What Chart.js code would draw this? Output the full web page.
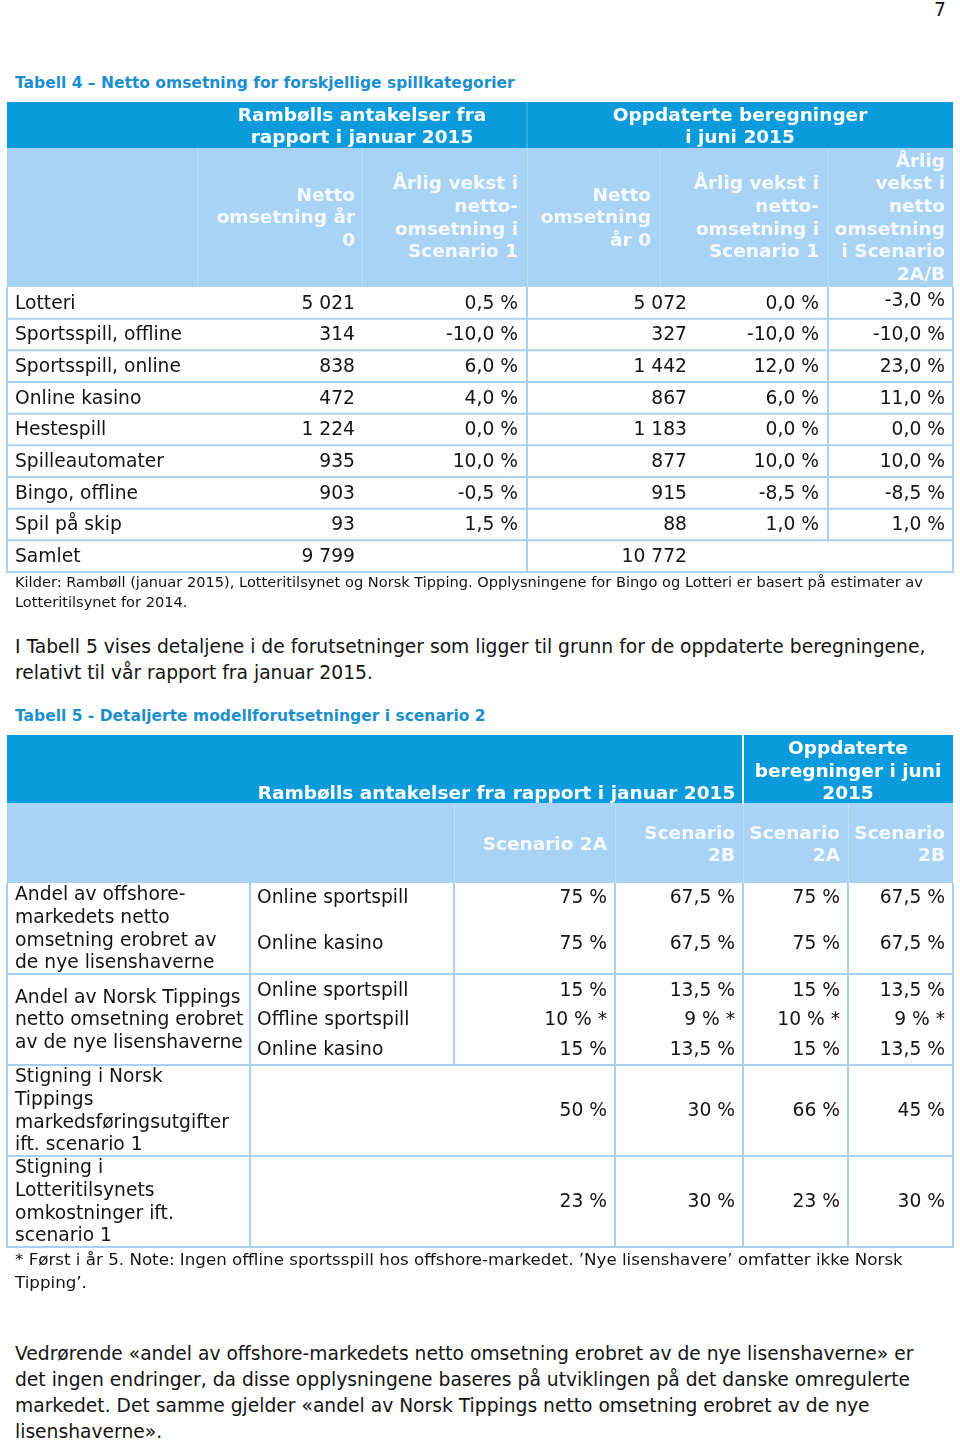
<!DOCTYPE html>
<html><head><meta charset="utf-8">
<script src="https://cdn.jsdelivr.net/npm/chart.js@4.4.1/dist/chart.umd.min.js"></script>
<style>
html,body{margin:0;padding:0;background:#fff}
body{width:960px;height:1442px;position:relative;overflow:hidden;font-family:"DejaVu Sans",Verdana,sans-serif;color:#141414}
.t{position:absolute;left:15px;white-space:pre;margin:0}
.cap{font-weight:bold;font-size:15.5px;line-height:20px;color:#1b8fd0}
.p{font-size:18.7px;line-height:26px}
.small{font-size:14.6px;line-height:20px}
.foot{font-size:16.7px;line-height:23px}
canvas{position:absolute;left:0}
</style></head>
<body>
<div class="t p" style="left:934px;top:-3px">7</div>
<div class="t cap" style="top:73px">Tabell 4 – Netto omsetning for forskjellige spillkategorier</div>
<div style="position:absolute;left:0;top:100px;width:960px;height:476px"><canvas id="t4"></canvas></div>
<div class="t small" style="top:572px">Kilder: Rambøll (januar 2015), Lotteritilsynet og Norsk Tipping. Opplysningene for Bingo og Lotteri er basert på estimater av
Lotteritilsynet for 2014.</div>
<div class="t p" style="top:634px">I Tabell 5 vises detaljene i de forutsetninger som ligger til grunn for de oppdaterte beregningene,
relativt til vår rapport fra januar 2015.</div>
<div class="t cap" style="top:706px">Tabell 5 - Detaljerte modellforutsetninger i scenario 2</div>
<div style="position:absolute;left:0;top:733px;width:960px;height:517px"><canvas id="t5"></canvas></div>
<div class="t foot" style="top:1248px">* Først i år 5. Note: Ingen offline sportsspill hos offshore-markedet. ’Nye lisenshavere’ omfatter ikke Norsk
Tipping’.</div>
<div class="t p" style="top:1341px">Vedrørende «andel av offshore-markedets netto omsetning erobret av de nye lisenshaverne» er
det ingen endringer, da disse opplysningene baseres på utviklingen på det danske omregulerte
markedet. Det samme gjelder «andel av Norsk Tippings netto omsetning erobret av de nye
lisenshaverne».</div>
<script>
// ---------- DATA: Tabell 4 ----------
const t4Categories = ["Lotteri","Sportsspill, offline","Sportsspill, online","Online kasino","Hestespill","Spilleautomater","Bingo, offline","Spil på skip","Samlet"];
const t4NettoJan   = [5021, 314, 838, 472, 1224, 935, 903, 93, 9799];
const t4VekstJan1  = [0.5, -10, 6, 4, 0, 10, -0.5, 1.5, null];
const t4NettoJun   = [5072, 327, 1442, 867, 1183, 877, 915, 88, 10772];
const t4VekstJun1  = [0, -10, 12, 6, 0, 10, -8.5, 1, null];
const t4VekstJun2  = [-3, -10, 23, 11, 0, 10, -8.5, 1, null];
const t4GroupHeaders = [["Rambølls antakelser fra","rapport i januar 2015"],["Oppdaterte beregninger","i juni 2015"]];
const t4ColumnHeaders = [
  ["Netto","omsetning år","0"],
  ["Årlig vekst i","netto-","omsetning i","Scenario 1"],
  ["Netto","omsetning","år 0"],
  ["Årlig vekst i","netto-","omsetning i","Scenario 1"],
  ["Årlig","vekst i","netto","omsetning","i Scenario","2A/B"]
];
// ---------- DATA: Tabell 5 ----------
const t5Groups = [
  ["Andel av offshore-","markedets netto","omsetning erobret av","de nye lisenshaverne"],
  ["Andel av Norsk Tippings","netto omsetning erobret","av de nye lisenshaverne"],
  ["Stigning i Norsk","Tippings","markedsføringsutgifter","ift. scenario 1"],
  ["Stigning i","Lotteritilsynets","omkostninger ift.","scenario 1"]
];
const t5SubTypes = [["Online sportspill","Online kasino"],["Online sportspill","Offline sportspill","Online kasino"],[""],[""]];
const t5Ramboll2A = [[75,75],[15,10,15],[50],[23]];
const t5Ramboll2B = [[67.5,67.5],[13.5,9,13.5],[30],[30]];
const t5Juni2A    = [[75,75],[15,10,15],[66],[23]];
const t5Juni2B    = [[67.5,67.5],[13.5,9,13.5],[45],[30]];
const t5FirstYear5 = [[false,false],[false,true,false],[false],[false]];
const t5GroupHeaders = [["Rambølls antakelser fra rapport i januar 2015"],["Oppdaterte","beregninger i juni","2015"]];
const t5ColumnHeaders = [["Scenario 2A"],["Scenario","2B"],["Scenario","2A"],["Scenario","2B"]];

// ---------- STYLE / LAYOUT ----------
const DARK = "#0a9bdc", LIGHT = "#a8d3f4", LINE = "#a9d0ef", HEADSEP = "#bcdff8", TXT = "#141414";
const FONT = '18.7px "DejaVu Sans"', BFONT = 'bold 18.5px "DejaVu Sans"';
const LH = 22.6;

function fmtInt(n){ return n==null ? "" : String(n).replace(/\B(?=(\d{3})+(?!\d))/g," "); }
function fmtPct1(v){ return v==null ? "" : v.toFixed(1).replace(".",",")+" %"; }
function fmtPct(v){ return (Number.isInteger(v) ? String(v) : String(v).replace(".",","))+" %"; }

function lines(ctx, arr, x, yc, align){
  ctx.textAlign = align; ctx.textBaseline = "middle";
  const y0 = yc - (arr.length-1)*LH/2;
  arr.forEach((s,i)=>ctx.fillText(s, x, y0 + i*LH));
}
function hline(ctx,x0,x1,y,c,w){ ctx.strokeStyle=c; ctx.lineWidth=w; ctx.beginPath(); ctx.moveTo(x0,y); ctx.lineTo(x1,y); ctx.stroke(); }
function vline(ctx,x,y0,y1,c,w){ ctx.strokeStyle=c; ctx.lineWidth=w; ctx.beginPath(); ctx.moveTo(x,y0); ctx.lineTo(x,y1); ctx.stroke(); }

// ---------- TABELL 4 ----------
const T4_EDGES = [7,197,362,527,660,828,953];
const T4_HEAD_RIGHT = [355,518,651,819,945];
const T4_DATA_RIGHT = [355,518,687,819,945];
const T4_H1 = 46, T4_H2 = 139;

const t4Plugin = {
  id:"t4",
  afterDraw(chart){
    const {ctx, chartArea:a, scales:{x,y}} = chart;
    const X = v => x.getPixelForValue(v);
    const n = t4Categories.length, rh = (a.bottom-a.top)/n;
    const L = X(T4_EDGES[0]), R = X(T4_EDGES[6]);
    const h1 = a.top - T4_H1 - T4_H2, h2 = a.top - T4_H2;
    ctx.save();
    ctx.fillStyle = DARK; ctx.fillRect(L, h1, R-L, T4_H1);
    ctx.fillStyle = LIGHT; ctx.fillRect(L, h2, R-L, T4_H2);
    vline(ctx, X(T4_EDGES[3]), h1, h2, "rgba(255,255,255,0.35)", 1);
    [1,2,3,4,5].forEach(i=>vline(ctx, X(T4_EDGES[i])+0.5, h2, a.top, HEADSEP, 1));
    ctx.fillStyle = "#fff"; ctx.font = BFONT;
    lines(ctx, t4GroupHeaders[0], (X(T4_EDGES[1])+X(T4_EDGES[3]))/2, h1+T4_H1/2+2, "center");
    lines(ctx, t4GroupHeaders[1], (X(T4_EDGES[3])+X(T4_EDGES[6]))/2, h1+T4_H1/2+2, "center");
    ctx.fillStyle = "#f4faff";
    t4ColumnHeaders.forEach((c,i)=>lines(ctx, c, X(T4_HEAD_RIGHT[i]), h2+T4_H2/2+1, "right"));
    for(let i=0;i<n;i++){
      const yc = y.getPixelForValue(i), top = yc-rh/2, bot = yc+rh/2;
      hline(ctx, L, R, bot, LINE, 2);
      vline(ctx, L, top, bot+1, LINE, 2);
      vline(ctx, R, top, bot+1, LINE, 2);
      vline(ctx, X(T4_EDGES[3]), top, bot+1, LINE, 2);
      if(t4VekstJun2[i]!=null) vline(ctx, X(T4_EDGES[5]), top, bot+1, LINE, 2);
      const ty = yc + 1;
      ctx.fillStyle = TXT; ctx.font = FONT; ctx.textBaseline = "middle";
      ctx.textAlign = "left"; ctx.fillText(t4Categories[i], X(15), ty);
      ctx.textAlign = "right";
      const vals = [fmtInt(t4NettoJan[i]), fmtPct1(t4VekstJan1[i]), fmtInt(t4NettoJun[i]), fmtPct1(t4VekstJun1[i]), fmtPct1(t4VekstJun2[i])];
      vals.forEach((s,j)=>ctx.fillText(s, X(T4_DATA_RIGHT[j]), ty - (i===0 && j===4 ? 3 : 0)));
    }
    ctx.restore();
  }
};

// ---------- TABELL 5 ----------
const T5_EDGES = [7,250,454,615,743,848,953];
const T5_RIGHT = [607,735,840,945];
const T5_H1 = 68, T5_H2 = 80;
const T5_SUB_POS = {1:[0.5], 2:[0.16,0.66], 3:[0.18,0.5,0.83]};

const t5Plugin = {
  id:"t5",
  afterDraw(chart){
    const {ctx, chartArea:a, scales:{x,y}} = chart;
    const X = v => x.getPixelForValue(v);
    const n = t5Groups.length, rh = (a.bottom-a.top)/n;
    const L = X(T5_EDGES[0]), R = X(T5_EDGES[6]);
    const h1 = a.top - T5_H1 - T5_H2, h2 = a.top - T5_H2;
    ctx.save();
    ctx.fillStyle = DARK; ctx.fillRect(L, h1, R-L, T5_H1);
    ctx.fillStyle = LIGHT; ctx.fillRect(L, h2, R-L, T5_H2);
    vline(ctx, X(T5_EDGES[4]), h1, h2, "#ffffff", 2);
    [2,3,4,5].forEach(i=>vline(ctx, X(T5_EDGES[i])+0.5, h2, a.top, HEADSEP, 1));
    ctx.fillStyle = "#fff"; ctx.font = BFONT;
    lines(ctx, t5GroupHeaders[0], (X(T5_EDGES[1])+X(T5_EDGES[4]))/2, h1+T5_H1-9, "center");
    lines(ctx, t5GroupHeaders[1], (X(T5_EDGES[4])+X(T5_EDGES[6]))/2, h1+T5_H1/2+3, "center");
    ctx.fillStyle = "#f4faff";
    t5ColumnHeaders.forEach((c,i)=>lines(ctx, c, X(T5_RIGHT[i]), h2+T5_H2/2+2, "right"));
    const cols = [t5Ramboll2A, t5Ramboll2B, t5Juni2A, t5Juni2B];
    for(let i=0;i<n;i++){
      const yc = y.getPixelForValue(i), top = yc-rh/2, bot = yc+rh/2;
      hline(ctx, L, R, bot, LINE, 2);
      [0,1,3,4,5,6].forEach(k=>vline(ctx, X(T5_EDGES[k]), top, bot+1, LINE, 2));
      if(t5SubTypes[i].length>1) vline(ctx, X(T5_EDGES[2]), top, bot+1, LINE, 2);
      ctx.fillStyle = TXT; ctx.font = FONT;
      lines(ctx, t5Groups[i], X(15), yc + 1, "left");
      const pos = T5_SUB_POS[t5SubTypes[i].length];
      t5SubTypes[i].forEach((s,j)=>{
        const yy = top + pos[j]*rh + 1;
        ctx.textAlign="left"; ctx.textBaseline="middle";
        ctx.fillText(s, X(257), yy);
        ctx.textAlign="right";
        cols.forEach((c,k)=>ctx.fillText(fmtPct(c[i][j]) + (t5FirstYear5[i][j] ? " *" : ""), X(T5_RIGHT[k]), yy));
      });
    }
    ctx.restore();
  }
};

function makeTable(id, labels, padTop, padBottom, plugin){
  return new Chart(document.getElementById(id), {
    type:"bar",
    data:{ labels: labels, datasets:[] },
    options:{
      responsive:true, maintainAspectRatio:false, animation:false,
      devicePixelRatio:1,
      layout:{ padding:{ top:padTop, bottom:padBottom, left:0, right:0 } },
      plugins:{ legend:{display:false}, tooltip:{enabled:false}, title:{display:false} },
      scales:{
        x:{ type:"linear", min:0, max:960, display:false, offset:false, grace:0, bounds:"data" },
        y:{ type:"category", display:false, offset:true }
      }
    },
    plugins:[plugin]
  });
}
makeTable("t4", t4Categories, 187, 4, t4Plugin);
makeTable("t5", t5Groups.map(g=>g.join(" ")), 150, 3, t5Plugin);
</script>
</body></html>
